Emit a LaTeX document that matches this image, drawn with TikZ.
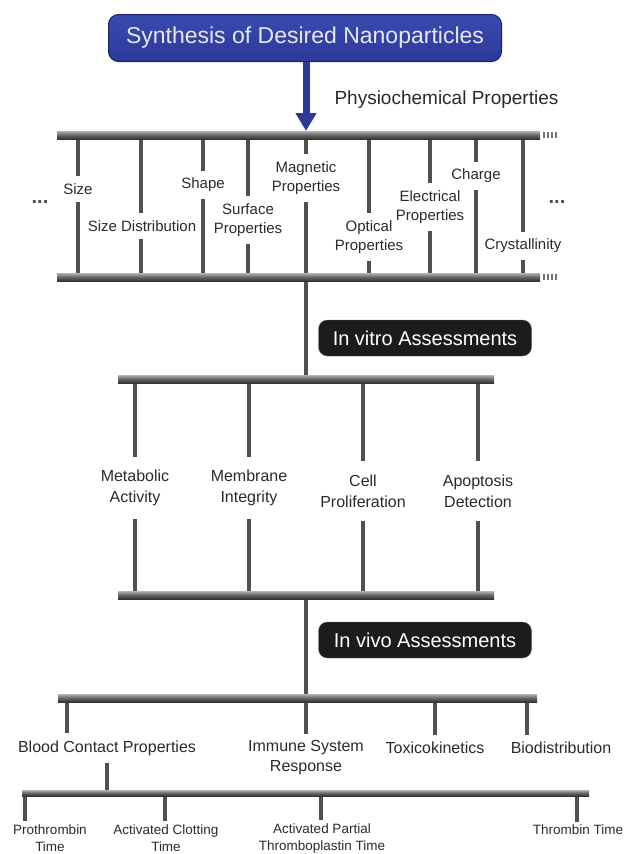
\documentclass[tikz,border=0pt]{standalone}
\usepackage{fontspec}
\setmainfont{Liberation Sans}
\usetikzlibrary{arrows.meta, calc}

\definecolor{synblue}{HTML}{2C399B}
\definecolor{synlight}{HTML}{3A4AAE}
\definecolor{synedge}{HTML}{18206E}
\definecolor{syntext}{HTML}{E6E8F4}
\definecolor{tagblack}{HTML}{1E1B1B}
\definecolor{stemgray}{HTML}{505050}
\definecolor{labelgray}{HTML}{2A2A2A}

\tikzset{
  bar/.style={top color=black!30, bottom color=black!80, middle color=black!60},
  stem/.style={line width=4pt, draw=stemgray},
  tick/.style={line width=2pt, draw=black!55},
  lbl/.style={align=center, text=labelgray, inner xsep=3pt, inner ysep=7pt,
    font=\fontsize{15}{19}\selectfont},
  vitlbl/.style={lbl, inner ysep=13pt, font=\fontsize{16}{21}\selectfont},
  vivlbl/.style={lbl, font=\fontsize{16}{20}\selectfont},
  smalllbl/.style={lbl, inner ysep=3pt, font=\fontsize{13.5}{17}\selectfont},
  title/.style={rounded corners=10pt, top color=synlight, bottom color=synblue,
    draw=synedge, line width=1pt, text=syntext, minimum width=393, minimum height=47,
    font=\fontsize{23}{27}\selectfont},
  tag/.style={rounded corners=9pt, fill=tagblack, draw=black!60, text=white!92,
    minimum width=213, minimum height=36, font=\fontsize{20}{23}\selectfont},
  dots/.style={text=black!70, font=\fontsize{20}{22}\selectfont\bfseries}
}

\begin{document}
\begin{tikzpicture}[x=1pt, y=-1pt]
\useasboundingbox (0,0) rectangle (626,854);

% bar ends
\coordinate (pt1) at (57,135);
\coordinate (pt2) at (540,135);
\coordinate (pb1) at (57,277);
\coordinate (pb2) at (540,277);
\coordinate (ptop) at (306,131);
\coordinate (vt1) at (118,379);
\coordinate (vt2) at (494,379);
\coordinate (vb1) at (118,595);
\coordinate (vb2) at (494,595);
\coordinate (ov1) at (58,698);
\coordinate (ov2) at (537,698);
\coordinate (bl1) at (22,793);
\coordinate (bl2) at (589,793);

\node[title] (synth) at (305,38) {Synthesis of Desired Nanoparticles};
\node[anchor=west, text=labelgray, font=\fontsize{19}{22}\selectfont] (phys) at (331,100) {Physiochemical Properties};

% physiochemical properties
\node[lbl] (size) at (78,189) {Size};
\node[lbl] (sizedist) at (142,226) {Size Distribution};
\node[lbl] (shape) at (203,185) {Shape};
\node[lbl] (surface) at (248,220) {Surface\\Properties};
\node[lbl] (magnetic) at (306,178) {Magnetic\\Properties};
\node[lbl] (optical) at (369,237) {Optical\\Properties};
\node[lbl] (electrical) at (430,207) {Electrical\\Properties};
\node[lbl] (charge) at (476,176) {Charge};
\node[lbl] (crystal) at (523,246) {Crystallinity};
\node[dots] (ldots) at (40,202) {...};
\node[dots] (rdots) at (557,202) {...};

\foreach \x/\n in {78/size, 141/sizedist, 203/shape, 248/surface, 306/magnetic,
                   369/optical, 430/electrical, 476/charge, 523/crystal}
  \draw[stem] (\x,135) -- (\x,0 |- \n.north) (\x,0 |- \n.south) -- (\x,277);

% in vitro
\node[tag] (invitro) at (425,338) {In vitro Assessments};
\node[vitlbl] (metabolic) at (135,488) {Metabolic\\Activity};
\node[vitlbl] (membrane) at (249,488) {Membrane\\Integrity};
\node[vitlbl] (cellprol) at (363,491) {Cell\\Proliferation};
\node[vitlbl] (apoptosis) at (478,491) {Apoptosis\\Detection};

\draw[stem] (pb1 -| magnetic) -- (vt1 -| magnetic);
\foreach \n in {metabolic, membrane, cellprol, apoptosis}
  \draw[stem] (vt1 -| \n) -- (\n.north) (\n.south) -- (vb1 -| \n);

% in vivo
\node[tag] (invivo) at (425,640) {In vivo Assessments};
\node[vivlbl] (blood) at (107,748) {Blood Contact Properties};
\node[vivlbl] (immune) at (306,758) {Immune System\\Response};
\node[vivlbl] (toxico) at (435,748) {Toxicokinetics};
\node[vivlbl] (biodist) at (561,748) {Biodistribution};

\draw[stem] (vb1 -| magnetic) -- (ov1 -| magnetic);
\foreach \x/\n in {67/blood, 306/immune, 435/toxico, 527/biodist}
  \draw[stem] (\x,698) -- (\x,0 |- \n.north);

% blood contact
\node[smalllbl] (prothr) at (50,838) {Prothrombin\\Time};
\node[smalllbl] (actclot) at (166,838) {Activated Clotting\\Time};
\node[smalllbl] (aptt) at (322,838) {Activated Partial\\Thromboplastin Time};
\node[smalllbl] (thrombin) at (578,830) {Thrombin Time};

\draw[stem] (blood.south) -- (blood.south |- bl1);
\foreach \x/\n in {25/prothr, 165/actclot, 321/aptt, 577/thrombin}
  \draw[stem, line width=3.5pt] (\x,793) -- (\x,0 |- \n.north);

% bars
\shade[bar] ([yshift=4pt]pt1) rectangle ([yshift=-4pt]pt2);
\shade[bar] ([yshift=4pt]pb1) rectangle ([yshift=-4pt]pb2);
\shade[bar] ([yshift=4pt]vt1) rectangle ([yshift=-4pt]vt2);
\shade[bar] ([yshift=4pt]vb1) rectangle ([yshift=-4pt]vb2);
\shade[bar] ([yshift=4pt]ov1) rectangle ([yshift=-4pt]ov2);
\shade[bar] ([yshift=3pt]bl1) rectangle ([yshift=-3pt]bl2);
\foreach \y in {135,277}
  \foreach \x in {544,548,552,556}
    \draw[tick] (\x,\y-3) -- (\x,\y+3);

\draw[line width=7pt, draw=synblue, -{Triangle[width=20pt,length=18pt]}] (synth.south -| ptop) -- (ptop);
\end{tikzpicture}
\end{document}
